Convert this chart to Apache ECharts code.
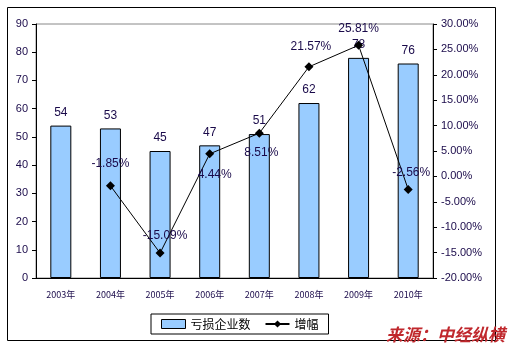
<!DOCTYPE html>
<html><head><meta charset="utf-8">
<script src="https://cdn.jsdelivr.net/npm/echarts@6/dist/echarts.min.js"></script>
<style>html,body{margin:0;padding:0;background:#fff}#c{width:513px;height:347px}</style>
</head><body><div id="c"></div>
<script>
var categories = ['2003年','2004年','2005年','2006年','2007年','2008年','2009年','2010年'];
var lossCompanies = [54, 53, 45, 47, 51, 62, 78, 76];
var growthPct = [null, -1.85, -15.09, 4.44, 8.51, 21.57, 25.81, -2.56];
var seriesNames = ['亏损企业数', '增幅'];
var sourceText = '来源：中经纵横';

var labelPos = ['top','top','top','bottom','bottom','top','top','top'];
var labelDist = [0,12,7,10,9,10,6,6];
var labelOff = [[0,0],[0,0],[5,0],[5,0],[2,0],[2,0],[0,0],[3,0]];
var numFont = '"Liberation Sans", Arial, sans-serif';
var txtColor = '#1a0a4a';

var lineData = growthPct.map(function(v,i){
  if (v === null) return '-';
  return {value: v, label: {position: labelPos[i], distance: labelDist[i], offset: labelOff[i]}};
});

var chart = echarts.init(document.getElementById('c'));
chart.setOption({
  animation: false,
  grid: {left: 36, right: 80, top: 24, bottom: 69, show: true, borderColor: '#888', borderWidth: 1},
  legend: {
    left: 151, top: 314, width: 167, height: 20,
    padding: [4, 10, 4, 10], itemGap: 14,
    borderColor: '#000', borderWidth: 1,
    itemWidth: 24, itemHeight: 9,
    textStyle: {fontFamily: '"Noto Sans CJK SC", sans-serif', fontSize: 12, color: '#000'},
    data: [
      {name: seriesNames[0], icon: 'rect', itemStyle: {color: '#99ccff', borderColor: '#000', borderWidth: 1}},
      {name: seriesNames[1]}
    ]
  },
  xAxis: {
    type: 'category', data: categories,
    axisLine: {lineStyle: {color: '#000', width: 1}},
    axisTick: {inside: true, length: 4, lineStyle: {color: '#000'}},
    axisLabel: {fontFamily: '"Noto Sans CJK SC", sans-serif', fontSize: 9, color: txtColor, margin: 12}
  },
  yAxis: [
    {type: 'value', min: 0, max: 90, interval: 10,
     splitLine: {show: false},
     axisLine: {show: true, lineStyle: {color: '#000'}},
     axisTick: {show: true, length: 4, lineStyle: {color: '#000'}},
     axisLabel: {fontFamily: numFont, fontSize: 11, color: txtColor, margin: 8}},
    {type: 'value', min: -20, max: 30, interval: 5, position: 'right',
     splitLine: {show: false},
     axisLine: {show: true, lineStyle: {color: '#000'}},
     axisTick: {show: true, length: 4, lineStyle: {color: '#000'}},
     axisLabel: {fontFamily: numFont, fontSize: 11, color: txtColor, margin: 8,
       formatter: function(v){ return v.toFixed(2) + '%'; }}}
  ],
  series: [
    {name: seriesNames[0], type: 'bar', data: lossCompanies, barWidth: 21,
     itemStyle: {color: '#99ccff', borderColor: '#000', borderWidth: 1},
     label: {show: true, position: 'top', distance: 7, fontFamily: numFont, fontSize: 12, color: txtColor}},
    {name: seriesNames[1], type: 'line', yAxisIndex: 1, data: lineData,
     symbol: 'diamond', symbolSize: 9, showAllSymbol: true,
     lineStyle: {color: '#000', width: 1}, itemStyle: {color: '#000'},
     label: {show: true, fontFamily: numFont, fontSize: 12, color: txtColor,
       formatter: function(p){ return p.value.toFixed(2) + '%'; }},
     z: 5}
  ],
  graphic: [
    {type: 'rect', left: 5, top: 5, shape: {width: 488, height: 333},
     style: {fill: 'none', stroke: '#000', lineWidth: 1}, silent: true},
    {type: 'text', right: 8, bottom: 4,
     style: {text: sourceText, fill: '#c0282d', font: 'italic bold 17px "Noto Sans CJK SC", sans-serif'}}
  ]
});
</script></body></html>
